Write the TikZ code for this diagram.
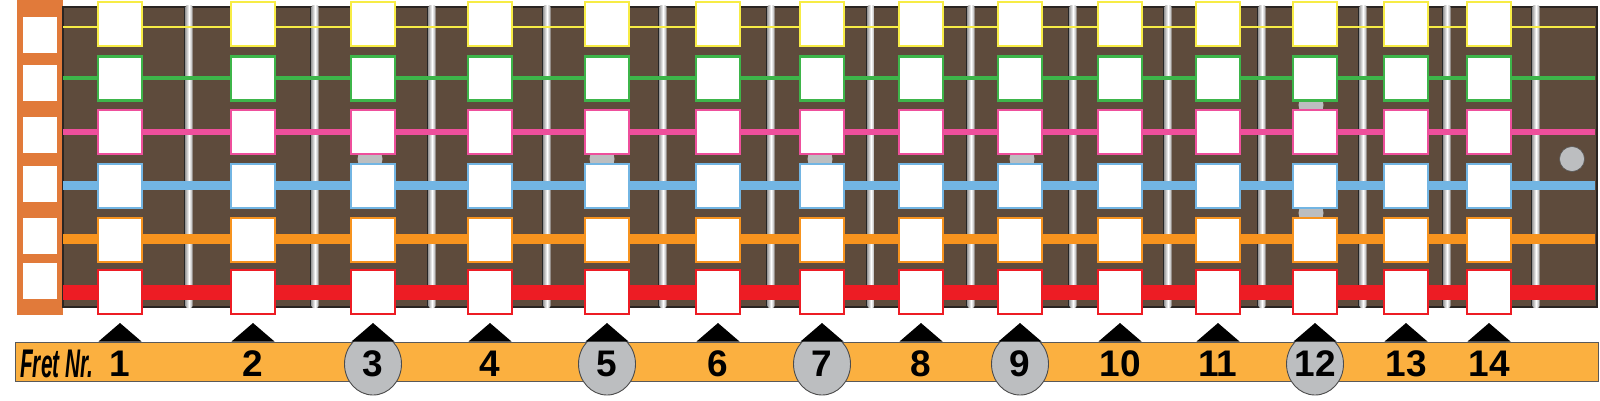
\documentclass[tikz,border=0pt]{standalone}
\usepackage{fontspec}
\setmainfont{Liberation Sans}
\usetikzlibrary{shapes.geometric}
\definecolor{board}{HTML}{5E4B3C}
\definecolor{edgec}{HTML}{2A2522}
\definecolor{nutc}{HTML}{E17A3A}
\definecolor{barc}{HTML}{FBB040}
\definecolor{dotc}{HTML}{BCBEC0}
\definecolor{yel}{HTML}{F7EC45}
\definecolor{grn}{HTML}{3DB54A}
\definecolor{pnk}{HTML}{EE4F9C}
\definecolor{blu}{HTML}{72B5E3}
\definecolor{org}{HTML}{F7931E}
\definecolor{rdc}{HTML}{ED1C24}
\begin{document}
\begin{tikzpicture}[x=1pt,y=-1pt,
  notebox/.style={rectangle, fill=white, minimum size=44pt, inner sep=0pt, line width=2.5pt},
  nutsq/.style={rectangle, fill=white, minimum width=34pt, minimum height=36pt, inner sep=0pt},
  numlbl/.style={anchor=base, inner sep=0pt, font=\fontsize{37}{37}\selectfont\bfseries},
  fretdot/.style={ellipse, fill=dotc, draw=gray!60!black, line width=0.9pt},
]
\useasboundingbox (0,0) rectangle (1600,400);
\fill[white] (0,0) rectangle (1600,400);
% nut
\fill[nutc] (17,0) rectangle (63,315);
\foreach \y [count=\i] in {35,83,134.5,184,235.5,281}
  \node[nutsq] (nut\i) at (40,\y) {};
% fretboard
\draw[fill=board, draw=edgec, line width=1.4pt] (63,7) rectangle (1597,307);
% fret wires
\foreach \x in {189,315,432,547,663,771,871,971,1073,1168,1262,1363,1447,1536} {
  \draw[line width=2pt, black!85] (\x-4.5,7) -- (\x-4.5,307);
  \shade[left color=gray!70, right color=gray!70, middle color=white, rounded corners=2pt] (\x-3.5,5) rectangle (\x+3.5,308);
}
% inlay dots
\foreach \x/\y in {370/159,602/159,820/159,1022/159,1311/105,1311/213}
  \fill[dotc] (\x,\y) circle (12.5pt);
\node[circle, fill=dotc, draw=gray!70!black, line width=0.6pt, minimum size=25pt, inner sep=0pt] (dot15) at (1572,159) {};
% strings
\foreach \y/\c/\w [count=\s] in {27/yel/2,78/grn/3.5,132/pnk/6,185.5/blu/9,239/org/10,292.5/rdc/15} {
  \coordinate (sL\s) at (63,\y);
  \coordinate (sR\s) at (1595,\y);
  \draw[line width=\w pt, \c] (sL\s) -- (sR\s);
}
% note boxes
\foreach \x [count=\f] in {120,253,373,490,607,718,822,921,1020,1120,1218,1315,1406,1489} {
  \foreach \y/\c [count=\s] in {24/yel,78.5/grn,132/pnk,186/blu,240/org,292/rdc}
    \node[notebox, draw=\c] (b\f-\s) at (\x,\y) {};
}
% fret number bar
\draw[fill=barc, draw=gray!70!black, line width=0.8pt] (15,342) rectangle (1598,381);
\foreach \x in {373,607,822,1020,1315}
  \node[fretdot, minimum width=57pt, minimum height=62pt, inner sep=0pt] (c\x) at (\x,364) {};
\foreach \x [count=\f] in {120,253,373,490,607,718,822,921,1020,1120,1218,1315,1406,1489} {
  \fill[black] (\x,323) -- (\x-21.5,341.5) -- (\x+21.5,341.5) -- cycle;
  \node[numlbl] (n\f) at (\x,376) {\f};
}
\node[anchor=base west, inner sep=0pt] (fretnr) at (20,377)
  {\fontsize{40}{40}\selectfont\bfseries\itshape\scalebox{0.52}[1]{Fret Nr.}};
\end{tikzpicture}
\end{document}
